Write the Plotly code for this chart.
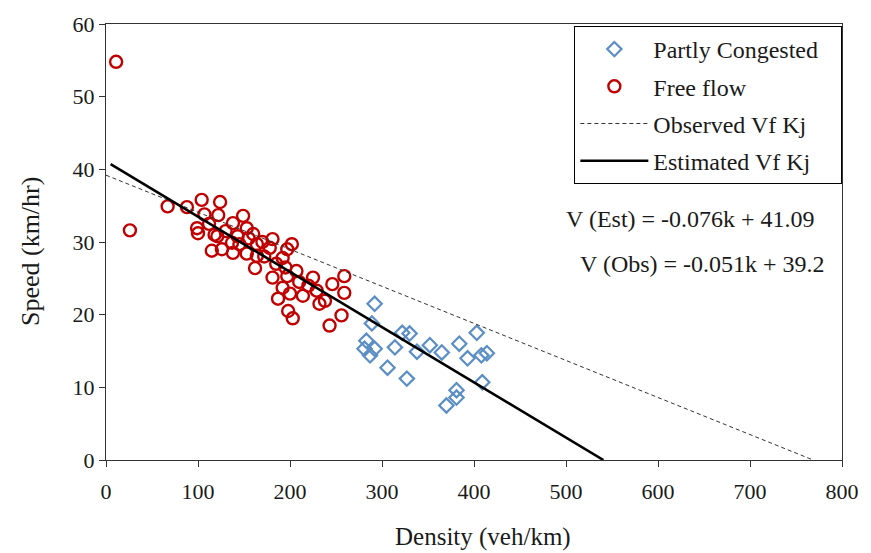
import plotly.graph_objects as go

# Free flow observations (density veh/km, speed km/hr)
free_k = [11, 26, 67, 88, 100, 99, 104, 124, 107, 122, 115, 126, 138, 149, 153, 121, 137, 145,
          160, 164, 153, 138, 164, 181, 202, 178, 162, 192, 197, 207, 181, 197, 225, 246, 259,
          259, 192, 200, 214, 229, 238, 232, 187, 198, 203, 256, 243, 130, 112, 170, 185, 210,
          143, 118, 155, 172, 195, 220]
free_v = [54.8, 31.6, 34.9, 34.8, 31.2, 31.9, 35.8, 35.5, 33.8, 33.7, 28.8, 29.0, 32.6, 33.6,
          31.9, 30.8, 29.9, 29.7, 31.1, 29.7, 28.4, 28.5, 28.1, 30.4, 29.7, 29.2, 26.4, 27.8,
          29.0, 26.0, 25.1, 25.3, 25.1, 24.2, 25.3, 23.0, 23.7, 22.9, 22.6, 23.3, 21.9, 21.5,
          22.2, 20.5, 19.5, 19.9, 18.5, 31.5, 32.5, 30.0, 27.0, 24.5, 30.8, 31.0, 30.5, 28.0,
          26.5, 24.0]

# Partly congested observations
cong_k = [292, 289, 322, 330, 283, 281, 292, 287, 314, 338, 352, 365, 384, 403, 393, 408, 414,
          409, 306, 327, 381, 381, 370]
cong_v = [21.5, 18.8, 17.5, 17.4, 16.4, 15.3, 15.3, 14.4, 15.5, 14.9, 15.8, 14.8, 16.0, 17.5,
          14.0, 14.4, 14.7, 10.7, 12.7, 11.2, 9.6, 8.6, 7.5]

# Regression lines V = a*k + b
est_a, est_b = -0.076, 41.09
obs_a, obs_b = -0.051, 39.2
est_k = [5, -est_b / est_a]
obs_k = [0, -obs_b / obs_a]

X_TITLE = "Density (veh/km)"
Y_TITLE = "Speed (km/hr)"

FONT = "Liberation Serif, Times New Roman, serif"
TXT = "#1a1a1a"
PAD = "\u00a0\u00a0\u00a0"

fig = go.Figure()
fig.add_trace(go.Scatter(
    x=cong_k, y=cong_v, mode="markers", name="Partly Congested" + PAD, legendgroup="a",
    marker=dict(symbol="diamond-open", size=11, color="#5B8EC4", line=dict(width=2.2, color="#5B8EC4"))))
fig.add_trace(go.Scatter(
    x=free_k, y=free_v, mode="markers", name="Free flow", legendgroup="b",
    marker=dict(symbol="circle-open", size=12, color="#C00000", line=dict(width=2.4, color="#C00000"))))
fig.add_trace(go.Scatter(
    x=obs_k, y=[obs_a * k + obs_b for k in obs_k], mode="lines", name="Observed Vf Kj", legendgroup="c",
    line=dict(color="#333333", width=1, dash="4px,3px")))
fig.add_trace(go.Scatter(
    x=est_k, y=[est_a * k + est_b for k in est_k], mode="lines", name="Estimated Vf Kj", legendgroup="d",
    line=dict(color="black", width=2.6)))

L, R, T, B = 106, 28, 22, 93
W, H = 871, 553
pw, ph = W - L - R, H - T - B


def px(x):
    return (x - L) / pw


def py(y):
    return (H - B - y) / ph


fig.add_annotation(x=px(818), y=py(218), xref="paper", yref="paper", text="V (Est) = -0.076k + 41.09",
                   showarrow=False, xanchor="right", yanchor="middle",
                   font=dict(family=FONT, size=24, color=TXT))
fig.add_annotation(x=px(828), y=py(263), xref="paper", yref="paper", text="V (Obs) = -0.051k + 39.2",
                   showarrow=False, xanchor="right", yanchor="middle",
                   font=dict(family=FONT, size=24, color=TXT))
# axis titles
fig.add_annotation(x=px(484), y=py(537), xref="paper", yref="paper", text=X_TITLE,
                   showarrow=False, xanchor="center", yanchor="middle",
                   font=dict(family=FONT, size=25, color=TXT))
fig.add_annotation(x=px(31), y=py(251), xref="paper", yref="paper", text=Y_TITLE, textangle=-90,
                   showarrow=False, xanchor="center", yanchor="middle",
                   font=dict(family=FONT, size=26, color=TXT))

fig.update_layout(
    width=W, height=H, margin=dict(l=L, r=R, t=T, b=B),
    paper_bgcolor="white", plot_bgcolor="white",
    font=dict(family=FONT, size=22, color=TXT),
    showlegend=True,
    legend=dict(x=px(575), y=py(24), xanchor="left", yanchor="top",
                bordercolor="black", borderwidth=1, bgcolor="white",
                font=dict(family=FONT, size=24, color=TXT), tracegroupgap=3,
                itemwidth=68),
    xaxis=dict(range=[0, 800], dtick=100, showgrid=False, zeroline=False,
               showline=True, linecolor="#333", linewidth=1, mirror=True,
               ticks="outside", ticklen=6, tickcolor="#333",
               tickfont=dict(family=FONT, size=22), ticklabelstandoff=6),
    yaxis=dict(range=[0, 60], dtick=10, showgrid=False, zeroline=False,
               showline=True, linecolor="#333", linewidth=1, mirror=True,
               ticks="outside", ticklen=6, tickcolor="#333",
               tickfont=dict(family=FONT, size=22)),
)

fig.write_html("out.html", post_script="document.body.style.margin='0';",
               config={"displayModeBar": False})
